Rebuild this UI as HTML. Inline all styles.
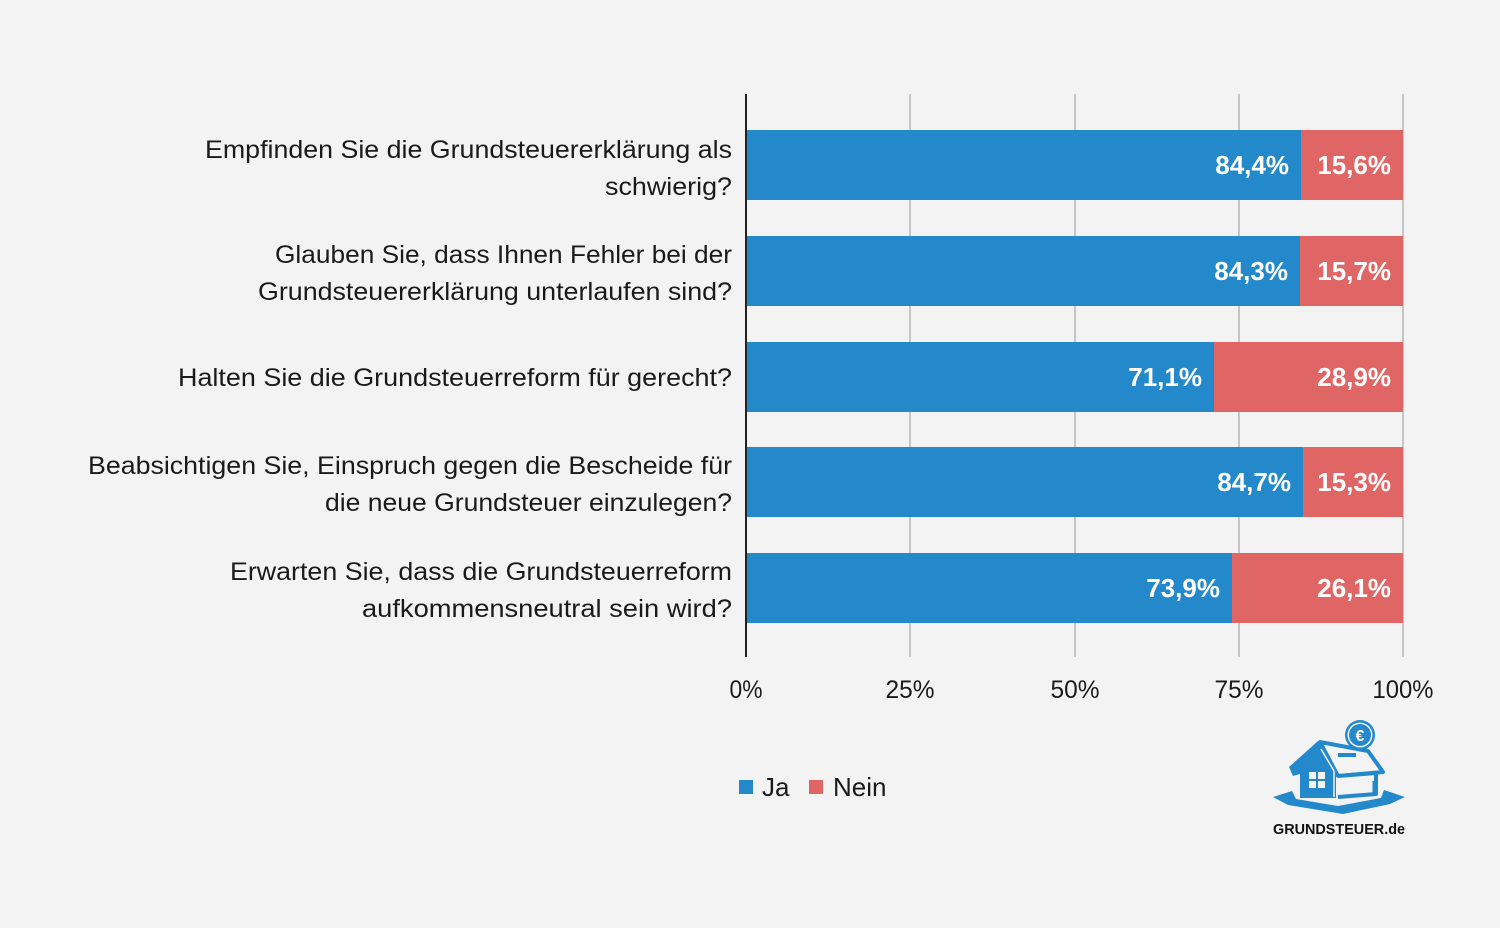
<!DOCTYPE html>
<html><head><meta charset="utf-8"><style>
html,body{margin:0;padding:0;background:#f3f3f3;}
svg{display:block;}
text{font-family:"Liberation Sans",Arial,sans-serif;}
</style></head><body>
<svg width="1500" height="928" viewBox="0 0 1500 928" xmlns="http://www.w3.org/2000/svg">
<rect width="1500" height="928" fill="#f3f3f3"/>
<!-- gridlines -->
<g stroke="#c6c6c6" stroke-width="2">
<line x1="910" y1="94" x2="910" y2="657"/>
<line x1="1075" y1="94" x2="1075" y2="657"/>
<line x1="1239" y1="94" x2="1239" y2="657"/>
<line x1="1403" y1="94" x2="1403" y2="657"/>
</g>
<!-- bars -->
<g>
<rect x="747" y="130" width="554" height="70" fill="#2389cb"/>
<rect x="1301" y="130" width="102" height="70" fill="#e06666"/>
<rect x="747" y="236" width="553" height="70" fill="#2389cb"/>
<rect x="1300" y="236" width="103" height="70" fill="#e06666"/>
<rect x="747" y="342" width="467" height="70" fill="#2389cb"/>
<rect x="1214" y="342" width="189" height="70" fill="#e06666"/>
<rect x="747" y="447" width="556" height="70" fill="#2389cb"/>
<rect x="1303" y="447" width="100" height="70" fill="#e06666"/>
<rect x="747" y="553" width="485" height="70" fill="#2389cb"/>
<rect x="1232" y="553" width="171" height="70" fill="#e06666"/>
</g>
<line x1="746" y1="94" x2="746" y2="657" stroke="#222" stroke-width="2"/>
<!-- value labels -->
<g fill="#ffffff" font-size="26" font-weight="bold" text-anchor="end">
<text x="1289" y="174">84,4%</text><text x="1391" y="174">15,6%</text>
<text x="1288" y="280">84,3%</text><text x="1391" y="280">15,7%</text>
<text x="1202" y="386">71,1%</text><text x="1391" y="386">28,9%</text>
<text x="1291" y="491">84,7%</text><text x="1391" y="491">15,3%</text>
<text x="1220" y="597">73,9%</text><text x="1391" y="597">26,1%</text>
</g>
<!-- category labels -->
<g fill="#1a1a1a" font-size="25" text-anchor="end">
<text x="732" y="158" textLength="527" lengthAdjust="spacingAndGlyphs">Empfinden Sie die Grundsteuererklärung als</text>
<text x="732" y="195" textLength="127" lengthAdjust="spacingAndGlyphs">schwierig?</text>
<text x="732" y="263" textLength="457" lengthAdjust="spacingAndGlyphs">Glauben Sie, dass Ihnen Fehler bei der</text>
<text x="732" y="300" textLength="474" lengthAdjust="spacingAndGlyphs">Grundsteuererklärung unterlaufen sind?</text>
<text x="732" y="386" textLength="554" lengthAdjust="spacingAndGlyphs">Halten Sie die Grundsteuerreform für gerecht?</text>
<text x="732" y="474" textLength="644" lengthAdjust="spacingAndGlyphs">Beabsichtigen Sie, Einspruch gegen die Bescheide für</text>
<text x="732" y="511" textLength="407" lengthAdjust="spacingAndGlyphs">die neue Grundsteuer einzulegen?</text>
<text x="732" y="580" textLength="502" lengthAdjust="spacingAndGlyphs">Erwarten Sie, dass die Grundsteuerreform</text>
<text x="732" y="617" textLength="370" lengthAdjust="spacingAndGlyphs">aufkommensneutral sein wird?</text>
</g>
<!-- tick labels -->
<g fill="#1a1a1a" font-size="25" text-anchor="middle">
<text x="746" y="698" textLength="33" lengthAdjust="spacingAndGlyphs">0%</text>
<text x="910" y="698" textLength="49" lengthAdjust="spacingAndGlyphs">25%</text>
<text x="1075" y="698" textLength="49" lengthAdjust="spacingAndGlyphs">50%</text>
<text x="1239" y="698" textLength="49" lengthAdjust="spacingAndGlyphs">75%</text>
<text x="1403" y="698" textLength="61" lengthAdjust="spacingAndGlyphs">100%</text>
</g>
<!-- legend -->
<rect x="739" y="780" width="14" height="14" fill="#2389cb"/>
<text x="762" y="796" font-size="26" fill="#1a1a1a">Ja</text>
<rect x="809" y="780" width="14" height="14" fill="#e06666"/>
<text x="833" y="796" font-size="26" fill="#1a1a1a">Nein</text>
<!-- logo -->
<g>
<!-- base tray -->
<path d="M1273,797 L1292,791 L1296,799 L1338,806 L1381,798 L1384,790 L1405,797 L1390,804 L1343,814 L1288,805 Z" fill="#2389cb"/>
<!-- roof plane (outlined) -->
<path d="M1320,742 L1368,751 L1383,772 L1338,776 Z" fill="#f3f3f3" stroke="#2389cb" stroke-width="4" stroke-linejoin="round"/>
<!-- coin slot -->
<rect x="1338" y="753" width="18" height="4" fill="#2389cb"/>
<!-- right wall -->
<path d="M1338,776 L1376,773 L1376,794 L1338,797" fill="#f3f3f3" stroke="#2389cb" stroke-width="4" stroke-linejoin="round"/>
<line x1="1374" y1="781" x2="1374" y2="793" stroke="#2389cb" stroke-width="3"/>
<!-- front face solid -->
<path d="M1289,767 L1318,741 L1336,770 L1336,798 L1300,798 L1300,774 L1293,776 Z" fill="#2389cb"/>
<!-- white separation line -->
<path d="M1321,749 L1334,771 L1334,797" fill="none" stroke="#f3f3f3" stroke-width="1.5"/>
<!-- window -->
<rect x="1309" y="772" width="16" height="16" fill="#f3f3f3"/>
<rect x="1316" y="772" width="2" height="16" fill="#2389cb"/>
<rect x="1309" y="779" width="16" height="2" fill="#2389cb"/>
<!-- coin -->
<circle cx="1360" cy="735" r="15" fill="#2389cb"/>
<circle cx="1360" cy="735" r="12.5" fill="#f3f3f3"/>
<circle cx="1360" cy="735" r="11" fill="#2389cb"/>
<text x="1360" y="741" font-size="16" font-weight="bold" fill="#ffffff" text-anchor="middle">€</text>
<text x="1273" y="834" font-size="15" font-weight="bold" fill="#111" textLength="132" lengthAdjust="spacingAndGlyphs">GRUNDSTEUER.de</text>
</g>
</svg>
</body></html>
